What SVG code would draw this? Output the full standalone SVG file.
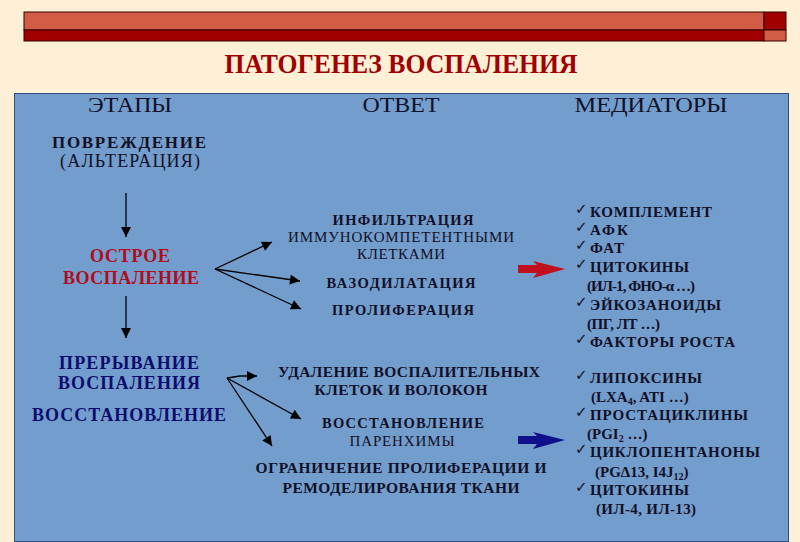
<svg xmlns="http://www.w3.org/2000/svg" width="800" height="542" viewBox="0 0 800 542">
<defs>
<style>
.b{font-family:"Liberation Serif","DejaVu Serif",serif;font-weight:bold;fill:#101028}
.r{font-family:"Liberation Serif","DejaVu Serif",serif;fill:#101028}
.m{font-family:"Liberation Serif","DejaVu Serif",serif;font-weight:bold;font-size:15px;fill:#101028}
.ck{font-family:"DejaVu Sans",sans-serif;font-size:15px;fill:#101028}
.ln{stroke:#000;stroke-width:1.3;fill:none}
</style>
<marker id="ah" viewBox="0 0 10 10" refX="10" refY="5" markerWidth="12" markerHeight="10" markerUnits="userSpaceOnUse" orient="auto">
<path d="M0,0 L10,5 L0,10 Z" fill="#000"/>
</marker>
</defs>
<rect width="800" height="542" fill="#fdf0d6"/>
<g id="header">
<rect x="24" y="12" width="740" height="18" fill="#d35c46" stroke="#300" stroke-width="1"/>
<rect x="24" y="30" width="740" height="11" fill="#a00000" stroke="#300" stroke-width="1"/>
<rect x="764" y="12" width="22" height="18" fill="#a00000" stroke="#300" stroke-width="1"/>
<rect x="764" y="30" width="22" height="11" fill="#d35c46" stroke="#300" stroke-width="1"/>
</g>
<text id="title" x="401" y="73" text-anchor="middle" font-family="'Liberation Serif','DejaVu Serif',serif" font-weight="bold" font-size="27" fill="#a00000" textLength="353" lengthAdjust="spacingAndGlyphs">ПАТОГЕНЕЗ ВОСПАЛЕНИЯ</text>
<rect id="panel" x="14.5" y="93.5" width="774" height="448" fill="#739dcc" stroke="#2b4f80" stroke-width="1"/>
<g id="headers">
<text class="r" x="130" y="112" text-anchor="middle" font-size="20" textLength="84" lengthAdjust="spacingAndGlyphs">ЭТАПЫ</text>
<text class="r" x="401" y="112" text-anchor="middle" font-size="20" textLength="77" lengthAdjust="spacingAndGlyphs">ОТВЕТ</text>
<text class="r" x="651" y="112" text-anchor="middle" font-size="20" textLength="153" lengthAdjust="spacingAndGlyphs">МЕДИАТОРЫ</text>
</g>
<g id="stage1">
<text class="b" x="129" y="148" text-anchor="middle" font-size="17" textLength="154">ПОВРЕЖДЕНИЕ</text>
<text class="r" x="130" y="167" text-anchor="middle" font-size="18" textLength="140">(АЛЬТЕРАЦИЯ)</text>
</g>
<g id="stage2">
<text class="b" x="130" y="262" text-anchor="middle" font-size="18" style="fill:#b00c1c" textLength="80">ОСТРОЕ</text>
<text class="b" x="131" y="284" text-anchor="middle" font-size="18" style="fill:#b00c1c" textLength="136">ВОСПАЛЕНИЕ</text>
</g>
<g id="stage3">
<text class="b" x="129" y="369" text-anchor="middle" font-size="18" style="fill:#0c0c6e" textLength="140">ПРЕРЫВАНИЕ</text>
<text class="b" x="129" y="389" text-anchor="middle" font-size="18" style="fill:#0c0c6e" textLength="142">ВОСПАЛЕНИЯ</text>
<text class="b" x="129" y="421" text-anchor="middle" font-size="18" style="fill:#0c0c6e" textLength="194">ВОССТАНОВЛЕНИЕ</text>
</g>
<g id="response1">
<text class="b" x="403" y="225" text-anchor="middle" font-size="14.5" textLength="141">ИНФИЛЬТРАЦИЯ</text>
<text class="r" x="401" y="242" text-anchor="middle" font-size="15" textLength="226">ИММУНОКОМПЕТЕНТНЫМИ</text>
<text class="r" x="401" y="259" text-anchor="middle" font-size="15" textLength="88">КЛЕТКАМИ</text>
<text class="b" x="401" y="288" text-anchor="middle" font-size="14.5" textLength="149">ВАЗОДИЛАТАЦИЯ</text>
<text class="b" x="403" y="315" text-anchor="middle" font-size="14.5" textLength="142">ПРОЛИФЕРАЦИЯ</text>
</g>
<g id="response2">
<text class="b" x="409" y="377" text-anchor="middle" font-size="15.5" textLength="262">УДАЛЕНИЕ ВОСПАЛИТЕЛЬНЫХ</text>
<text class="b" x="401" y="395" text-anchor="middle" font-size="15.5" textLength="173">КЛЕТОК И ВОЛОКОН</text>
<text class="b" x="403" y="428" text-anchor="middle" font-size="14.5" textLength="162">ВОССТАНОВЛЕНИЕ</text>
<text class="r" x="402" y="446" text-anchor="middle" font-size="15" textLength="105">ПАРЕНХИМЫ</text>
<text class="b" x="401" y="473" text-anchor="middle" font-size="15.5" textLength="291">ОГРАНИЧЕНИЕ ПРОЛИФЕРАЦИИ И</text>
<text class="b" x="401" y="493" text-anchor="middle" font-size="15.5" textLength="237">РЕМОДЕЛИРОВАНИЯ ТКАНИ</text>
</g>
<g id="mediators1">
<text class="ck" x="575" y="214">✓</text><text class="m" x="590" y="217" textLength="122">КОМПЛЕМЕНТ</text>
<text class="ck" x="575" y="232">✓</text><text class="m" x="590" y="235" textLength="38">АФК</text>
<text class="ck" x="575" y="250">✓</text><text class="m" x="590" y="253" textLength="34">ФАТ</text>
<text class="ck" x="575" y="269">✓</text><text class="m" x="590" y="272" textLength="99">ЦИТОКИНЫ</text>
<text class="m" x="587" y="291" textLength="108">(ИЛ-1, ФНО-α …)</text>
<text class="ck" x="575" y="307">✓</text><text class="m" x="590" y="310" textLength="131">ЭЙКОЗАНОИДЫ</text>
<text class="m" x="587" y="329" textLength="73">(ПГ, ЛТ …)</text>
<text class="ck" x="575" y="344">✓</text><text class="m" x="590" y="347" textLength="145">ФАКТОРЫ РОСТА</text>
</g>
<g id="mediators2">
<text class="ck" x="575" y="380">✓</text><text class="m" x="590" y="383" textLength="112">ЛИПОКСИНЫ</text>
<text class="m" x="591" y="402">(LXA<tspan font-size="10" dy="3">4</tspan><tspan dy="-3">, ATI …)</tspan></text>
<text class="ck" x="575" y="417">✓</text><text class="m" x="590" y="420" textLength="158">ПРОСТАЦИКЛИНЫ</text>
<text class="m" x="587" y="439">(PGI<tspan font-size="10" dy="3">2</tspan><tspan dy="-3"> …)</tspan></text>
<text class="ck" x="575" y="454">✓</text><text class="m" x="590" y="457" textLength="170">ЦИКЛОПЕНТАНОНЫ</text>
<text class="m" x="595" y="477">(PGΔ13, I4J<tspan font-size="10" dy="3">12</tspan><tspan dy="-3">)</tspan></text>
<text class="ck" x="575" y="492">✓</text><text class="m" x="590" y="495" textLength="99">ЦИТОКИНЫ</text>
<text class="m" x="596" y="514" textLength="100">(ИЛ-4, ИЛ-13)</text>
</g>
<g id="connectors">
<line class="ln" x1="126" y1="193" x2="126" y2="237" marker-end="url(#ah)"/>
<line class="ln" x1="126" y1="296" x2="126" y2="338" marker-end="url(#ah)"/>
<line class="ln" x1="215" y1="269" x2="272" y2="242" marker-end="url(#ah)"/>
<line class="ln" x1="215" y1="269" x2="300" y2="281" marker-end="url(#ah)"/>
<line class="ln" x1="215" y1="269" x2="301" y2="309" marker-end="url(#ah)"/>
<polyline class="ln" points="227,378 240,376 257,376" marker-end="url(#ah)"/>
<line class="ln" x1="227" y1="378" x2="301" y2="419" stroke-width="2" marker-end="url(#ah)"/>
<line class="ln" x1="227" y1="378" x2="272" y2="446" marker-end="url(#ah)"/>
<path d="M518,265 L537,265 L533,261 L565,269 L533,278 L537,273 L518,273 Z" fill="#c0101e"/>
<path d="M518,436 L537,436 L533,432 L565,440 L533,449 L537,444 L518,444 Z" fill="#10108a"/>
</g>
</svg>
